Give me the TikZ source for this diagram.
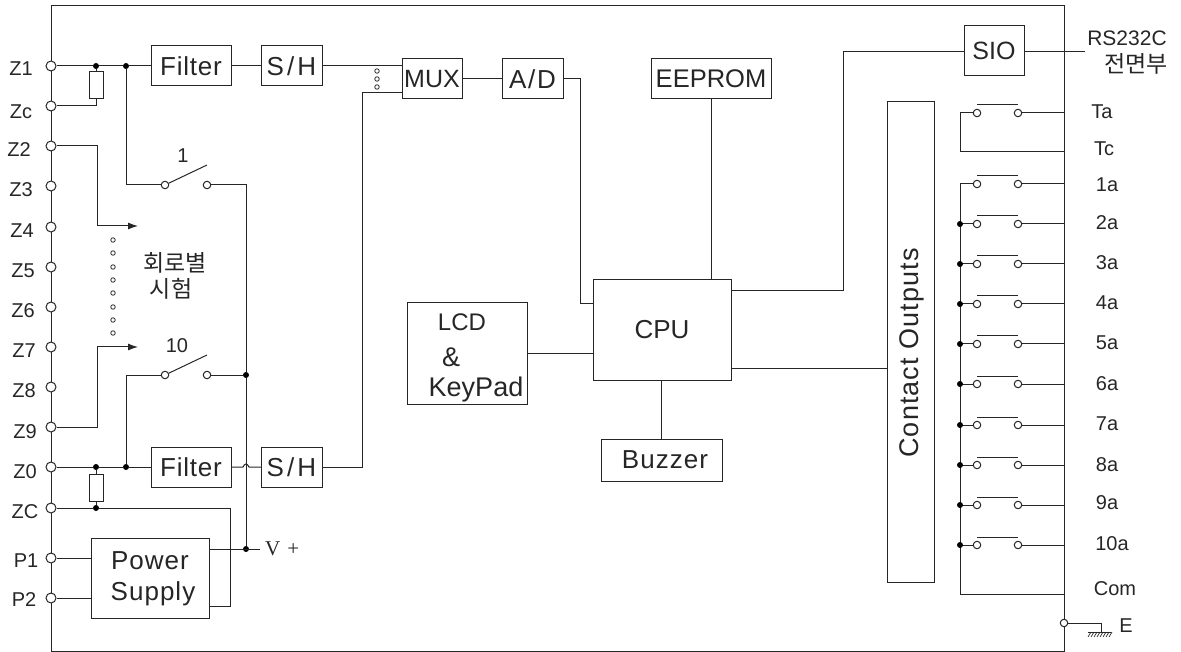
\documentclass[tikz,border=0pt]{standalone}
\usepackage{fontspec}
\setmainfont{Liberation Sans}
\newfontfamily\krfont{Noto Sans CJK KR}
\newfontfamily\serfont{Liberation Serif}
\usetikzlibrary{arrows.meta,patterns}
\newcommand{\fs}[1]{\fontsize{#1}{#1}\selectfont}
\newcommand{\spc}[1]{\addfontfeature{LetterSpace=#1}}
\tikzset{
  wire/.style={draw=black!85,line width=1pt},
  blk/.style={draw=black!85,line width=1pt,fill=white,inner sep=0pt,outer sep=0pt,minimum width=#1,font=\fs{26},text=black!85},
  term/.style={circle,draw=black!85,line width=1pt,fill=white,inner sep=0pt,minimum size=10pt},
  cont/.style={circle,draw=black!85,line width=1pt,fill=white,inner sep=0pt,minimum size=7.5pt},
  tiny/.style={circle,draw=black!85,line width=.8pt,fill=white,inner sep=0pt,minimum size=4.5pt},
  jdot/.style={circle,fill=black,inner sep=0pt,minimum size=6pt},
  lab/.style={font=\fs{20},text=black!85,inner sep=0pt},
  big/.style={font=\fs{27},text=black!85,inner sep=0pt},
  res/.style={draw=black!85,line width=1pt,fill=white,inner sep=0pt,minimum width=14pt,minimum height=27pt},
  arr/.style={wire,-{Latex[length=10pt,width=7pt]}}
}
\begin{document}
\begin{tikzpicture}[x=1pt,y=1pt]
\useasboundingbox (0,0) rectangle (1181,-652);
\coordinate (fTL) at (51,-6); \coordinate (fBR) at (1064,-651);
\draw[wire] (fTL) rectangle (fBR);
% blocks
\node[blk=80pt,minimum height=40pt,font=\fs{26}\spc{3}] (filt1) at (191,-66) {Filter};
\node[blk=61pt,minimum height=40pt,font=\fs{26}\spc{12}] (sh1) at (291.5,-66) {S/H};
\node[blk=60pt,minimum height=40pt,font=\fs{25}] (mux) at (432,-79) {MUX};
\node[blk=61pt,minimum height=40pt,font=\fs{26}\spc{7}] (ad) at (532.5,-79) {A/D};
\node[blk=120pt,minimum height=40pt,font=\fs{25.5}] (eep) at (711,-79) {EEPROM};
\node[blk=60pt,minimum height=50pt,font=\fs{25}] (sio) at (994,-51) {SIO};
\node[blk=47pt,minimum height=480pt] (co) at (910.5,-342) {};
\node[rotate=90,font=\fs{27}\spc{4},text=black!85,inner sep=0pt] (colab) at (912,-353) {Contact Outputs};
\node[blk=138pt,minimum height=100pt,font=\fs{26}] (cpu) at (662,-330) {CPU};
\node[blk=120pt,minimum height=101pt,align=center] (lcd) at (467,-353.5) {};
\node[font=\fs{24},text=black!85,inner sep=0pt] (t1) at (462,-322) {LCD};
\node[big] (t2) at (451,-357) {\&};
\node[big] (t3) at (476,-390) {KeyPad};
\node[blk=121pt,minimum height=42pt] (buz) at (661.5,-460) {};
\node[font=\fs{26}\spc{4},text=black!85,inner sep=0pt] (buzt) at (665,-460) {Buzzer};
\node[blk=80pt,minimum height=40pt,font=\fs{26}\spc{3}] (filt2) at (191,-467) {Filter};
\node[blk=61pt,minimum height=40pt,font=\fs{26}\spc{12}] (sh2) at (291.5,-467) {S/H};
\node[blk=118pt,minimum height=80pt] (psu) at (150,-578) {};
\node[font=\fs{26}\spc{4},text=black!85,inner sep=0pt] (p1t) at (150,-561) {Power};
\node[font=\fs{26}\spc{4},text=black!85,inner sep=0pt] (p2t) at (153,-594) {Supply};
% left terminals
\foreach \n/\y/\t/\lx/\ly in {z1/66/Z1/21/69,zc/106/Zc/21/112,z2/146/Z2/19/150,z3/186/Z3/21/190,z4/227/Z4/22/231,z5/267/Z5/23/271,z6/307/Z6/23/311,z7/347/Z7/24/351,z8/387/Z8/24/391,z9/427/Z9/25/432,z0/467/Z0/25/472,zC/508/ZC/25/512,p1/558/P1/26/561,p2/598/P2/24/600}{
  \node[term] (\n) at (51,-\y) {};
  \node[lab] (lab\n) at (\lx,-\ly) {\t};
}
% resistors and junctions
\node[res] (r1) at (96,-85.5) {};
\node[res] (r2) at (96,-487.5) {};
\node[jdot] (j1) at (96,-66) {};
\node[jdot] (j2) at (126,-66) {};
\node[jdot] (j3) at (96,-467) {};
\node[jdot] (j4) at (126,-467) {};
\node[jdot] (j5) at (96,-508) {};
\node[jdot] (j6) at (246,-375) {};
\node[jdot] (j7) at (246,-549) {};
\coordinate (zcr) at (96,-106);
\draw[wire] (z1) -- (j1) -- (j2) -- (filt1);
\draw[wire] (filt1) -- (sh1);
\draw[wire] (j1) -- (r1);
\draw[wire] (r1) -- (zcr) -- (zc);
\draw[wire] (z0) -- (j3) -- (j4) -- (filt2);
\draw[wire] (j3) -- (r2);
\draw[wire] (r2) -- (j5);
% switches
\node[cont] (s1a) at (165,-185) {};
\node[cont] (s1b) at (207,-185) {};
\node[cont] (s2a) at (165,-375) {};
\node[cont] (s2b) at (207,-375) {};
\coordinate (s1t) at (207,-165);
\coordinate (s2t) at (207,-355);
\draw[wire] (s1a) -- (s1t);
\draw[wire] (s2a) -- (s2t);
\node[lab] (l1) at (183,-156) {1};
\node[lab] (l10) at (177,-346) {10};
\draw[wire] (j2) |- (s1a);
\draw[wire] (j4) |- (s2a);
\draw[wire] (s1b) -| (j6);
\draw[wire] (s2b) -- (j6);
\draw[wire] (j6) -- (j7);
% test arrows
\coordinate (a1) at (138,-226);
\coordinate (a2) at (138,-347);
\coordinate (b1) at (97,-146);
\coordinate (b2) at (97,-226);
\coordinate (b3) at (97,-427);
\coordinate (b4) at (97,-347);
\draw[wire] (z2) -- (b1) -- (b2);
\draw[arr] (b2) -- (a1);
\draw[wire] (z9) -- (b3) -- (b4);
\draw[arr] (b4) -- (a2);
\foreach \i/\y in {1/240,2/253,3/267,4/280,5/293,6/307,7/320,8/333}{
  \node[tiny] (d\i) at (113,-\y) {};
}
\node[font=\krfont\fs{23},text=black!85,inner sep=0pt] (k1) at (175,-263) {회로별};
\node[font=\krfont\fs{23},text=black!85,inner sep=0pt] (k2) at (171,-289) {시험};
% filter2 -> S/H with jump
\coordinate (h1) at (243,-467);
\coordinate (h2) at (249,-467);
\draw[wire] (filt2) -- (h1) .. controls (245,-463) and (247,-463) .. (h2) -- (sh2);
% ZC and power
\coordinate (zcc) at (230,-508);
\coordinate (psr) at (209,-606);
\coordinate (zcd) at (230,-606);
\draw[wire] (zC) -- (j5) -- (zcc) -- (zcd) -- (psr);
\draw[wire] (p1) -- (p1-|psu.west);
\draw[wire] (p2) -- (p2-|psu.west);
\coordinate (vp) at (260,-549);
\coordinate (pso) at (209,-549);
\draw[wire] (pso) -- (vp);
\node[font=\serfont\fs{21},text=black!85,inner sep=0pt,anchor=west] (vlab) at (265,-549) {V\,\,+};
% MUX connections
\coordinate (m1) at (402,-66);
\coordinate (m2) at (402,-93);
\coordinate (sh2c) at (362,-467);
\coordinate (m3) at (362,-93);
\draw[wire] (sh1) -- (sh1-|m1);
\draw[wire] (sh2) -- (sh2c) -- (m3) -- (m2);
\foreach \i/\y in {1/71,2/79,3/87}{
  \node[tiny] (md\i) at (377,-\y) {};
}
\draw[wire] (mux) -- (ad);
\coordinate (ad1) at (580,-79);
\coordinate (ad2) at (580,-304);
\coordinate (cp1) at (593,-304);
\draw[wire] (ad) -- (ad1) -- (ad2) -- (cp1);
\draw[wire] (eep) -- (eep|-cpu.north);
\draw[wire] (lcd.east|-0,-354) -- (cpu.west|-0,-354);
\draw[wire] (cpu.south-|buz) -- (buz);
\coordinate (c1) at (731,-291);
\coordinate (c2) at (843,-291);
\coordinate (c3) at (843,-52);
\coordinate (c4) at (964,-52);
\draw[wire] (c1) -- (c2) -- (c3) -- (c4);
\coordinate (c5) at (731,-368);
\coordinate (c6) at (887,-368);
\draw[wire] (c5) -- (c6);
\coordinate (sio2) at (1085,-52);
\coordinate (sio1) at (1024,-52);
\draw[wire] (sio1) -- (sio2);
\node[font=\fs{21},text=black!85,inner sep=0pt] (rs) at (1127,-38) {RS232C};
\node[font=\krfont\fs{23},text=black!85,inner sep=0pt] (rs2) at (1136,-64) {전면부};
% output contacts
\coordinate (bus) at (960,-184);
\coordinate (busb) at (960,-594);
\coordinate (comr) at (1064,-594);
\draw[wire] (bus) -- (busb) -- (comr);
\foreach \n/\y/\t/\lx/\ly in {a1/184/1a/1107/185,a2/224/2a/1107/223,a3/264/3a/1107/263,a4/304/4a/1107/303,a5/344/5a/1107/343,a6/384/6a/1107/384,a7/425/7a/1107/424,a8/465/8a/1107/465,a9/505/9a/1107/503,a10/545/10a/1112/544}{
  \node[cont] (c\n l) at (977,-\y) {};
  \node[cont] (c\n r) at (1018,-\y) {};
  \coordinate (b\n l) at (977,-\y+8);
  \coordinate (b\n r) at (1018,-\y+8);
  \coordinate (e\n) at (1064,-\y);
  \coordinate (w\n) at (960,-\y);
  \draw[wire] (b\n l) -- (b\n r);
  \draw[wire] (w\n) -- (c\n l);
  \draw[wire] (c\n r) -- (e\n);
  \node[lab] (l\n) at (\lx,-\ly) {\t};
}
\foreach \n in {a2,a3,a4,a5,a6,a7,a8,a9,a10}{
  \node[jdot] (jj\n) at (w\n) {};
}
% Ta / Tc
\node[cont] (tal) at (977,-113) {};
\node[cont] (tar) at (1018,-113) {};
\coordinate (tbl) at (977,-105);
\coordinate (tbr) at (1018,-105);
\coordinate (tw) at (960,-113);
\coordinate (te) at (1064,-113);
\coordinate (tcl) at (960,-152);
\coordinate (tcr) at (1064,-152);
\draw[wire] (tbl) -- (tbr);
\draw[wire] (tal) -- (tw) -- (tcl) -- (tcr);
\draw[wire] (tar) -- (te);
\node[lab] (lta) at (1102,-112) {Ta};
\node[lab] (ltc) at (1104,-149) {Tc};
\node[lab] (lcom) at (1115,-589) {Com};
% earth
\node[cont] (et) at (1064,-623) {};
\coordinate (g1) at (1101,-623);
\coordinate (g2) at (1101,-632);
\draw[wire] (et) -- (g1) -- (g2);
\coordinate (gl) at (1088,-632);
\coordinate (gr) at (1111,-632);
\draw[wire] (gl) -- (gr);
\foreach \x in {1091,1094,1097,1100,1103,1106,1109,1112}{
  \draw[black!85,line width=.7pt] (\x,-632) -- (\x-3,-637);
}
\node[lab] (le) at (1126,-626) {E};
\end{tikzpicture}
\end{document}
